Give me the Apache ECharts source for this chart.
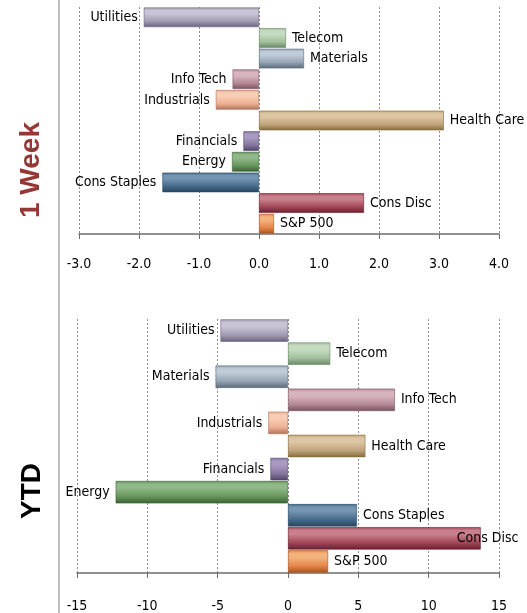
<!DOCTYPE html>
<html>
<head>
<meta charset="utf-8">
<title>Sector returns</title>
<script src="https://cdn.jsdelivr.net/npm/echarts@6/dist/echarts.min.js"></script>
<style>
  html, body { margin: 0; padding: 0; background: #fff; }
  #chart { width: 527px; height: 613px; }
</style>
</head>
<body>
<div id="chart"></div>
<script>
  // sectors, top to bottom
  const categories = ['Utilities', 'Telecom', 'Materials', 'Info Tech', 'Industrials', 'Health Care',
    'Financials', 'Energy', 'Cons Staples', 'Cons Disc', 'S&P 500'];
  // % returns
  const weekValues = [-1.92, 0.45, 0.75, -0.44, -0.72, 3.08, -0.26, -0.45, -1.61, 1.75, 0.25];
  const ytdValues = [-4.8, 3.0, -5.15, 7.6, -1.4, 5.5, -1.25, -12.25, 4.9, 13.7, 2.85];
  const panelTitles = ['1 Week', 'YTD'];

  // one colour per sector: highlight / body / shadow
  const barLight = ['#cac4d6', '#c6dcc2', '#c0ccd8', '#d8b4be', '#f8cdb6', '#dcc6a4', '#a89ac0', '#90b888', '#7496b2', '#c8808c', '#f4b27c'];
  const barMid = ['#a29bb2', '#a2bf9c', '#94a4b4', '#b48a96', '#eeb092', '#c2a47c', '#85769e', '#66955c', '#46698a', '#a24656', '#e4864a'];
  const barDark = ['#6a627c', '#688864', '#5a6a7c', '#785460', '#ac725c', '#846c3c', '#54446c', '#3a6034', '#264660', '#6a1e2e', '#aa5420'];

  const labelFont = "'Liberation Sans Narrow', 'DejaVu Sans Condensed', sans-serif";

  function barData (values, fixups) {
    return values.map(function (v, i) {
      const item = {
        value: v,
        itemStyle: {
          color: {
            type: 'linear', x: 0, y: 0, x2: 0, y2: 1,
            colorStops: [
              { offset: 0, color: barMid[i] },
              { offset: 0.15, color: barLight[i] },
              { offset: 0.32, color: barLight[i] },
              { offset: 0.7, color: barMid[i] },
              { offset: 1, color: barDark[i] }
            ]
          },
          borderColor: barDark[i],
          borderWidth: 0.6
        },
        label: { position: v < 0 ? 'left' : 'right' }
      };
      if (fixups && fixups[i]) {
        item.label = Object.assign(item.label, fixups[i]);
      }
      return item;
    });
  }

  const axisFont = { fontFamily: labelFont, fontSize: 14, color: '#000' };

  function xAxisFor (gridIndex, min, max, interval, digits, margin) {
    return {
      type: 'value',
      gridIndex: gridIndex,
      min: min,
      max: max,
      interval: interval,
      axisLine: { show: true, onZero: false, lineStyle: { color: '#6d6d6d', width: 1.5 } },
      axisTick: { show: true, length: 5, lineStyle: { color: '#6d6d6d' } },
      axisLabel: Object.assign({
        margin: margin,
        formatter: function (v) { return v.toFixed(digits); }
      }, axisFont),
      splitLine: { show: true, lineStyle: { type: [2, 2], color: '#8c8c8c', width: 1 } }
    };
  }

  function yAxisFor (gridIndex) {
    return {
      type: 'category',
      gridIndex: gridIndex,
      inverse: true,
      data: categories,
      axisLine: { show: false },
      axisTick: { show: false },
      axisLabel: { show: false }
    };
  }

  function seriesFor (index, values, gap, fixups) {
    return {
      type: 'bar',
      xAxisIndex: index,
      yAxisIndex: index,
      barCategoryGap: gap,
      data: barData(values, fixups),
      label: {
        show: true,
        formatter: '{b}',
        distance: 6,
        fontFamily: labelFont,
        fontSize: 14,
        color: '#000'
      },
      silent: true,
      animation: false
    };
  }

  const chart = echarts.init(document.getElementById('chart'));
  chart.setOption({
    animation: false,
    grid: [
      { left: 79, right: 28, top: 7, height: 227 },
      { left: 77, right: 28, top: 319, height: 254 }
    ],
    xAxis: [
      xAxisFor(0, -3, 4, 1, 1, 23),
      xAxisFor(1, -15, 15, 5, 0, 26)
    ],
    yAxis: [yAxisFor(0), yAxisFor(1)],
    series: [
      seriesFor(0, weekValues, '5%'),
      // Cons Disc label is pulled back over its bar so it stays inside the page
      seriesFor(1, ytdValues, '3%', { 9: { offset: [-30, 0] } })
    ],
    graphic: [
      {
        type: 'line',
        shape: { x1: 59, y1: 0, x2: 59, y2: 613 },
        style: { stroke: '#bfbfbf', lineWidth: 2 }
      },
      {
        type: 'text',
        x: 31, y: 170,
        rotation: Math.PI / 2,
        style: {
          text: panelTitles[0],
          fill: '#953735',
          font: "bold 28px 'Liberation Sans', Arial, sans-serif",
          align: 'center',
          verticalAlign: 'middle'
        }
      },
      {
        type: 'text',
        x: 32, y: 491,
        rotation: Math.PI / 2,
        style: {
          text: panelTitles[1],
          fill: '#000',
          font: "bold 28px 'Liberation Sans', Arial, sans-serif",
          align: 'center',
          verticalAlign: 'middle'
        }
      }
    ]
  });
</script>
</body>
</html>
